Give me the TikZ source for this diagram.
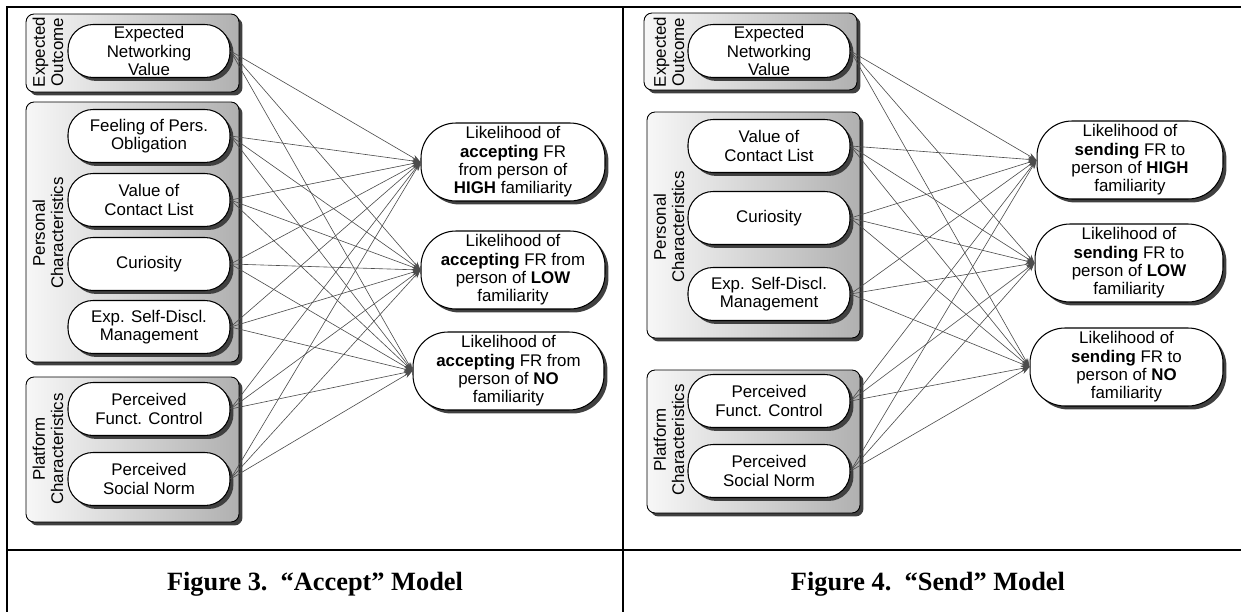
\documentclass[tikz,border=0pt]{standalone}
\usepackage{fontspec}
\setmainfont{Liberation Sans}
\newfontfamily\capfont{Liberation Serif}
\usetikzlibrary{arrows.meta, shadows}

\begin{document}
\begin{tikzpicture}[
		x=0.02cm, y=-0.02cm,
		font=\fontsize{9.6}{10.4}\selectfont,
		hardshadow/.style={general shadow={fill=black!75, shadow xshift=0.07cm, shadow yshift=-0.07cm}},
		factor/.style={rectangle, draw, rounded corners=0.5cm, minimum width=3.24cm, minimum height=1.06cm, align=center, fill=white, line width=0.6pt, inner sep=1pt, hardshadow},
		outcome/.style={factor, rounded corners=0.7cm, minimum width=3.68cm, minimum height=1.56cm},
		group/.style={rectangle, draw, rounded corners=0.16cm, left color=gray!6, right color=gray!62, line width=0.5pt, inner sep=0pt, hardshadow},
		grouplabel/.style={rotate=90, align=center},
		link/.style={draw=black!70, line width=0.35pt, -{Stealth[length=0.17cm, width=0.12cm]}},
		frame/.style={line width=1.1pt}
		]
		\useasboundingbox (0,0) rectangle (1241,612);
		
		% Frame
		\draw [frame] (7,612) -- (7,7) -- (1241,7);
		\draw [frame] (623,7) -- (623,612);
		\draw [frame] (7,550) -- (1241,550);
		
		% Groups, Accept model
		\node (ag1) [group, minimum width=4.26cm, minimum height=1.56cm] at (132.5,53) {};
		\node (ag2) [group, minimum width=4.26cm, minimum height=5.2cm] at (132.5,232) {};
		\node (ag3) [group, minimum width=4.26cm, minimum height=2.9cm] at (132.5,449.5) {};
		\node (agl1) [grouplabel] at (48,52) {Expected\\Outcome};
		\node (agl2) [grouplabel] at (48,233) {Personal\\Characteristics};
		\node (agl3) [grouplabel] at (48,449) {Platform\\Characteristics};
		
		% Nodes, Accept model
		\node (a1) [factor] at (149,51) {Expected\\Networking\\Value};
		\node (a2) [factor] at (149,136) {Feeling of Pers.\\Obligation};
		\node (a3) [factor] at (149,200) {Value of\\Contact List};
		\node (a4) [factor] at (149,264) {Curiosity};
		\node (a5) [factor] at (149,327) {Exp. Self-Discl.\\Management};
		\node (a6) [factor] at (149,409) {Perceived\\Funct. Control};
		\node (a7) [factor] at (149,479) {Perceived\\Social Norm};
		\node (ahigh) [outcome] at (513,162) {Likelihood of\\\textbf{accepting} FR\\from person of\\\textbf{HIGH} familiarity};
		\node (alow) [outcome] at (513,270) {Likelihood of\\\textbf{accepting} FR from\\person of \textbf{LOW}\\familiarity};
		\node (ano) [outcome, minimum width=3.82cm] at (508.5,371) {Likelihood of\\\textbf{accepting} FR from\\person of \textbf{NO}\\familiarity};
		
		% Groups, Send model
		\node (sg1) [group, minimum width=4.26cm, minimum height=1.54cm] at (750.5,51.5) {};
		\node (sg2) [group, minimum width=4.26cm, minimum height=4.52cm] at (753.5,225) {};
		\node (sg3) [group, minimum width=4.26cm, minimum height=2.86cm] at (753.5,441.5) {};
		\node (sgl1) [grouplabel] at (669,52) {Expected\\Outcome};
		\node (sgl2) [grouplabel] at (669,227) {Personal\\Characteristics};
		\node (sgl3) [grouplabel] at (669,440) {Platform\\Characteristics};
		
		% Nodes, Send model
		\node (s1) [factor] at (769,51) {Expected\\Networking\\Value};
		\node (s2) [factor] at (769,146) {Value of\\Contact List};
		\node (s3) [factor] at (769,218) {Curiosity};
		\node (s4) [factor] at (769,294) {Exp. Self-Discl.\\Management};
		\node (s5) [factor] at (769,401) {Perceived\\Funct. Control};
		\node (s6) [factor] at (769,471) {Perceived\\Social Norm};
		\node (shigh) [outcome, minimum width=3.72cm] at (1130,160) {Likelihood of\\\textbf{sending} FR to\\person of \textbf{HIGH}\\familiarity};
		\node (slow) [outcome, minimum width=3.76cm] at (1129,263) {Likelihood of\\\textbf{sending} FR to\\person of \textbf{LOW}\\familiarity};
		\node (sno) [outcome, minimum width=3.86cm] at (1126.5,367) {Likelihood of\\\textbf{sending} FR to\\person of \textbf{NO}\\familiarity};
		
		% Arrows
		\foreach \i in {1,...,7} {
			\draw [link] (a\i.east) -- (ahigh.west);
			\draw [link] (a\i.east) -- (alow.west);
			\draw [link] (a\i.east) -- (ano.west);
		}
		\foreach \i in {1,...,6} {
			\draw [link] (s\i.east) -- (shigh.west);
			\draw [link] (s\i.east) -- (slow.west);
			\draw [link] (s\i.east) -- (sno.west);
		}
		
		% Captions
		\node (cap3) [anchor=base, font=\capfont\bfseries\fontsize{15}{18}\selectfont] at (315,590) {Figure 3.\ \ “Accept” Model};
		\node (cap4) [anchor=base, font=\capfont\bfseries\fontsize{15}{18}\selectfont] at (928,590) {Figure 4.\ \ “Send” Model};
		
	\end{tikzpicture}
\end{document}
